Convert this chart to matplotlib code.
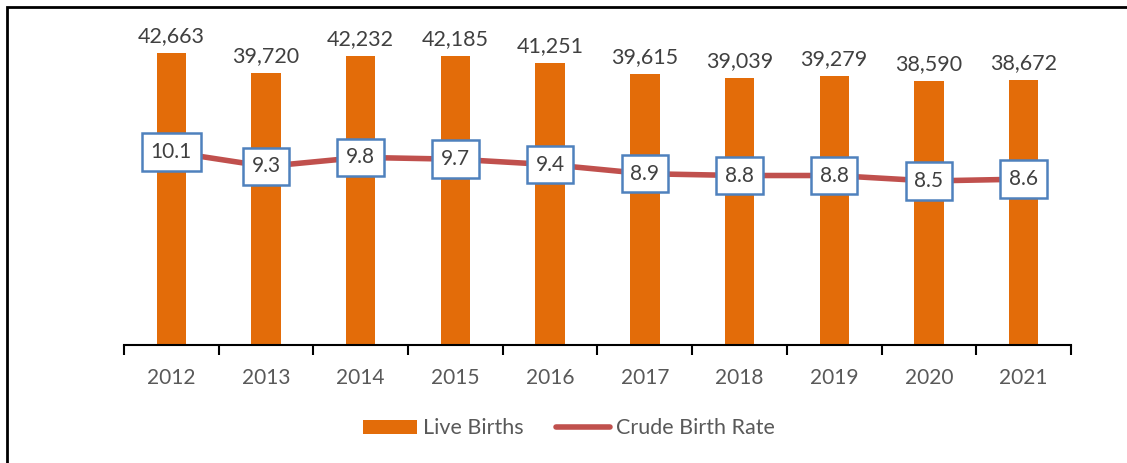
import matplotlib.pyplot as plt
import matplotlib.patches as mpatches
import numpy as np

plt.rcParams['font.family'] = ['Lato', 'DejaVu Sans']

years = ['2012', '2013', '2014', '2015', '2016', '2017', '2018', '2019', '2020', '2021']
live_births = [42663, 39720, 42232, 42185, 41251, 39615, 39039, 39279, 38590, 38672]
birth_rate = [10.1, 9.3, 9.8, 9.7, 9.4, 8.9, 8.8, 8.8, 8.5, 8.6]

bar_col = '#E36C09'
line_col = '#C0504D'
box_col = '#4F81BD'
txt_col = '#404040'

fig = plt.figure(figsize=(11.27, 4.63), dpi=100)
ax = fig.add_axes([0.110, 0.2549, 0.8403, 0.7019])
x = np.arange(len(years))

bars = ax.bar(x, live_births, width=0.31, color=bar_col, label='Live Births', zorder=2)
ax.set_xlim(-0.5, len(years) - 0.5)
ax.set_ylim(0, 47480)
for xi, v in zip(x, live_births):
    ax.annotate(f'{v:,}', (xi, v), xytext=(0, 5), textcoords='offset points',
                ha='center', va='bottom', fontsize=15.5, color=txt_col)

ax2 = ax.twinx()
ax2.set_ylim(-0.55, 17.38)
ln, = ax2.plot(x, birth_rate, color=line_col, lw=4, solid_capstyle='round',
               label='Crude Birth Rate', zorder=3)
for xi, v in zip(x, birth_rate):
    ax2.text(xi, v, f'{v}', ha='center', va='center', fontsize=15, color=txt_col,
             zorder=4,
             bbox=dict(boxstyle='square,pad=0.42', fc='white', ec=box_col, lw=1.8))

for a in (ax, ax2):
    for s in ('top', 'right', 'left'):
        a.spines[s].set_visible(False)
    a.set_yticks([])
ax2.spines['bottom'].set_visible(False)
ax.spines['bottom'].set_linewidth(1.5)
ax.spines['bottom'].set_color('black')

ax.set_xticks(np.arange(-0.5, len(years), 1.0), minor=False)
ax.set_xticklabels([])
ax.tick_params(axis='x', which='major', length=7, width=1.5, direction='out')
ax.set_xticks(x, minor=True)
ax.set_xticklabels(years, minor=True, fontsize=15, color='#595959')
ax.tick_params(axis='x', which='minor', length=0, pad=16.5)

fig.legend(handles=[bars, ln], loc='center', bbox_to_anchor=(0.505, 0.075), ncol=2,
           frameon=False, fontsize=15.5, labelcolor='#595959',
           handlelength=2.5, handleheight=0.62, columnspacing=1.5, handletextpad=0.3)

fig.patches.append(mpatches.Rectangle((7 / 1127, -0.1), 2, 1.1 - 7 / 463,
                                      transform=fig.transFigure, fill=False,
                                      ec='black', lw=2))

fig.savefig('out.png', dpi=100)
